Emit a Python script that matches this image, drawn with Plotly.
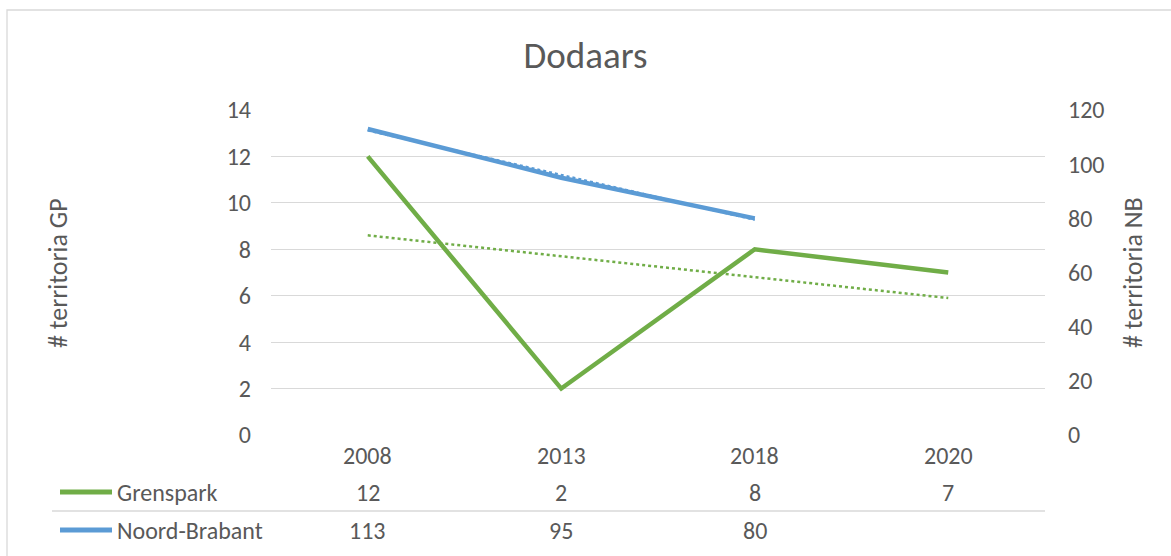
import plotly.graph_objects as go

# ─── Data ─────────────────────────────────────────────────────────────────────
years = ["2008", "2013", "2018", "2020"]
grenspark = [12, 2, 8, 7]
noord_brabant = [113, 95, 80, None]
# linear trendlines as drawn in the source chart
trend_gp = [8.6, 7.7, 6.8, 5.9]
trend_nb = [112.5, 96, 79.5, None]

GREEN = "#70AD47"
BLUE = "#5B9BD5"
TXT = "#595959"
GRID = "#D9D9D9"
FONT = "Carlito, Lato, 'Open Sans', sans-serif"

W, H = 1171, 556
TS = 24  # tick / table text size


def px_x(p):
    return p / W


def px_y(p):
    return 1 - p / H


idx = list(range(len(years)))

fig = go.Figure()

# trendlines (under main lines)
fig.add_trace(go.Scatter(
    x=idx, y=trend_gp, mode="lines", yaxis="y",
    line=dict(color=GREEN, width=2.5, dash="dot"), hoverinfo="skip"))
fig.add_trace(go.Scatter(
    x=idx, y=trend_nb, mode="lines", yaxis="y2",
    line=dict(color=BLUE, width=2.5, dash="dot"), hoverinfo="skip"))

# main series
fig.add_trace(go.Scatter(
    x=idx, y=grenspark, mode="lines", yaxis="y", name="Grenspark",
    line=dict(color=GREEN, width=4.5)))
fig.add_trace(go.Scatter(
    x=idx, y=noord_brabant, mode="lines", yaxis="y2", name="Noord-Brabant",
    line=dict(color=BLUE, width=4.5)))


def label(x, y, text, xref="paper", xanchor="center", size=TS, angle=0):
    fig.add_annotation(x=x, y=y, xref=xref, yref="paper", text=text,
                       showarrow=False, xanchor=xanchor, yanchor="middle",
                       textangle=angle, font=dict(size=size, color=TXT))


# ─── Data table below plot ────────────────────────────────────────────────────
row_y = [455, 492, 530]
for i, yr in enumerate(years):
    label(i, px_y(row_y[0]), yr, xref="x")
    label(i, px_y(row_y[1]), str(grenspark[i]), xref="x")
    if noord_brabant[i] is not None:
        label(i, px_y(row_y[2]), str(noord_brabant[i]), xref="x")

for name, color, yy in [("Grenspark", GREEN, row_y[1]),
                        ("Noord-Brabant", BLUE, row_y[2])]:
    fig.add_shape(type="line", xref="paper", yref="paper",
                  x0=px_x(60), x1=px_x(112), y0=px_y(yy), y1=px_y(yy),
                  line=dict(color=color, width=5))
    label(px_x(115), px_y(yy), name, xanchor="left")

# separator line in table
fig.add_shape(type="line", xref="paper", yref="paper",
              x0=px_x(52), x1=px_x(1045), y0=px_y(511), y1=px_y(511),
              line=dict(color=GRID, width=1.3))

# chart border
fig.add_shape(type="rect", xref="paper", yref="paper",
              x0=px_x(7), x1=px_x(1175), y0=px_y(580), y1=px_y(10),
              line=dict(color=GRID, width=1.3))

# axis titles
label(px_x(58), px_y(273), "# territoria GP", size=26, angle=-90)
label(px_x(1133), px_y(273), "# territoria NB", size=26, angle=-90)

fig.update_layout(
    width=W, height=H,
    margin=dict(l=0, r=0, t=0, b=0, autoexpand=False),
    paper_bgcolor="white", plot_bgcolor="white",
    showlegend=False,
    font=dict(family=FONT, color=TXT),
    title=dict(text="Dodaars", x=0.5, xanchor="center",
               y=px_y(55), yanchor="middle",
               font=dict(size=37, color=TXT, family=FONT)),
    xaxis=dict(domain=[px_x(271), px_x(1045)], range=[-0.5, 3.5],
               showticklabels=False, showgrid=False, zeroline=False,
               showline=False, fixedrange=True, automargin=False),
    yaxis=dict(domain=[px_y(435), px_y(110)], range=[0, 14], dtick=2,
               showgrid=True, gridcolor=GRID, gridwidth=1.3,
               zeroline=False, showline=False, automargin=False,
               ticks="", ticklabelstandoff=19,
               tickfont=dict(size=TS, color=TXT)),
    yaxis2=dict(overlaying="y", side="right", range=[0, 120], dtick=20,
                showgrid=False, zeroline=False, showline=False,
                automargin=False, ticks="", ticklabelstandoff=22,
                tickfont=dict(size=TS, color=TXT)),
)

fig.write_html(
    "out.html",
    config={"displayModeBar": False},
    post_script="document.body.style.margin='0';"
                "document.body.style.overflow='hidden';",
)
